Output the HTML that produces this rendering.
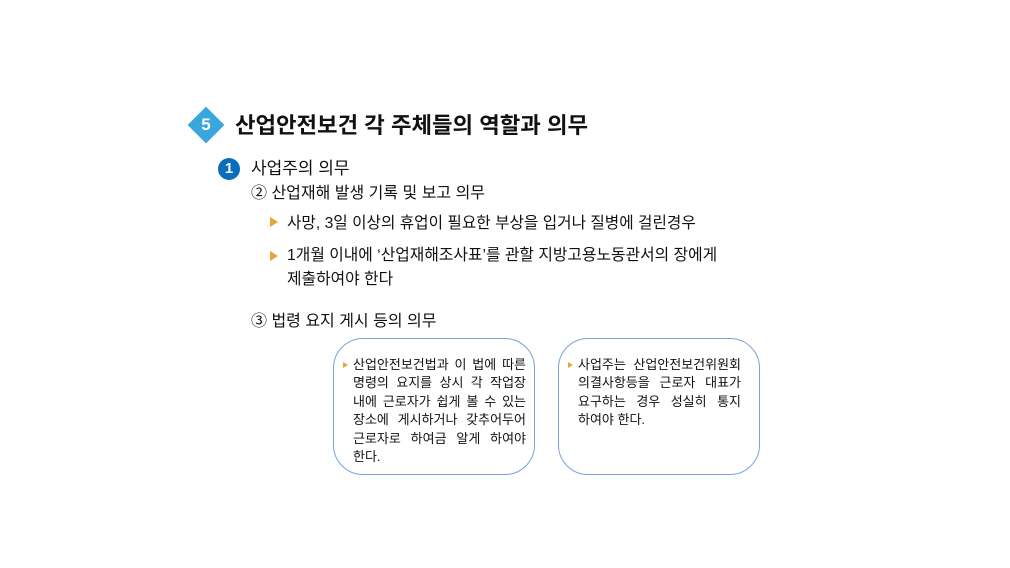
<!DOCTYPE html>
<html><head><meta charset="utf-8"><style>
body{margin:0;width:1010px;height:568px;background:#fff;position:relative;overflow:hidden;font-family:"Liberation Sans","Noto Sans CJK KR",sans-serif;color:#111}
.a{position:absolute;white-space:nowrap}
.tri{position:absolute;width:0;height:0;border-left:8px solid #e8a33a;border-top:5px solid transparent;border-bottom:5px solid transparent}
.box{position:absolute;border:1.3px solid #7aa3d8;border-radius:30px;top:338px;height:137px;width:202px;box-sizing:border-box}
.bt{position:absolute;font-size:13px;line-height:18.4px}
.bt div{text-align:justify;text-align-last:justify;white-space:nowrap;height:18.4px}
.bt div.l{text-align-last:left}
.st{position:absolute;width:0;height:0;border-left:5px solid #e8a33a;border-top:3.5px solid transparent;border-bottom:3.5px solid transparent}
</style></head><body>
<div style="position:absolute;left:193px;top:112px;width:26px;height:26px;background:#3aa6de;transform:rotate(45deg)"></div>
<div class="a" style="left:193px;top:112px;width:26px;line-height:26px;text-align:center;color:#fff;font-weight:bold;font-size:17px">5</div>
<div class="a" style="left:235px;top:109px;font-size:22.3px;font-weight:bold;line-height:34px">산업안전보건 각 주체들의 역할과 의무</div>
<div style="position:absolute;left:218px;top:158px;width:22px;height:22px;border-radius:50%;background:#0a6ebd"></div>
<div class="a" style="left:218px;top:158px;width:22px;line-height:22px;text-align:center;color:#fff;font-weight:bold;font-size:15px">1</div>
<div class="a" style="left:251px;top:157px;font-size:17px;line-height:24px">사업주의 의무</div>
<div class="a" style="left:251px;top:182px;font-size:16px;line-height:24px">② 산업재해 발생 기록 및 보고 의무</div>
<div class="tri" style="left:270px;top:217px"></div>
<div class="a" style="left:287px;top:212px;font-size:15.7px;line-height:24px">사망, 3일 이상의 휴업이 필요한 부상을 입거나 질병에 걸린경우</div>
<div class="tri" style="left:270px;top:251px"></div>
<div class="a" style="left:287px;top:244px;font-size:15.8px;line-height:24px">1개월 이내에 ‘산업재해조사표’를 관할 지방고용노동관서의 장에게<br>제출하여야 한다</div>
<div class="a" style="left:251px;top:310px;font-size:16px;line-height:24px">③ 법령 요지 게시 등의 의무</div>
<div class="box" style="left:333px"></div>
<div class="box" style="left:558px"></div>
<div class="st" style="left:343px;top:362px"></div>
<div class="bt" style="left:353px;top:356px;width:173px">
<div>산업안전보건법과 이 법에 따른</div>
<div>명령의 요지를 상시 각 작업장</div>
<div>내에 근로자가 쉽게 볼 수 있는</div>
<div>장소에 게시하거나 갖추어두어</div>
<div>근로자로 하여금 알게 하여야</div>
<div class="l">한다.</div>
</div>
<div class="st" style="left:568px;top:362px"></div>
<div class="bt" style="left:578px;top:356px;width:163px">
<div>사업주는 산업안전보건위원회</div>
<div>의결사항등을 근로자 대표가</div>
<div>요구하는 경우 성실히 통지</div>
<div class="l">하여야 한다.</div>
</div>
</body></html>
